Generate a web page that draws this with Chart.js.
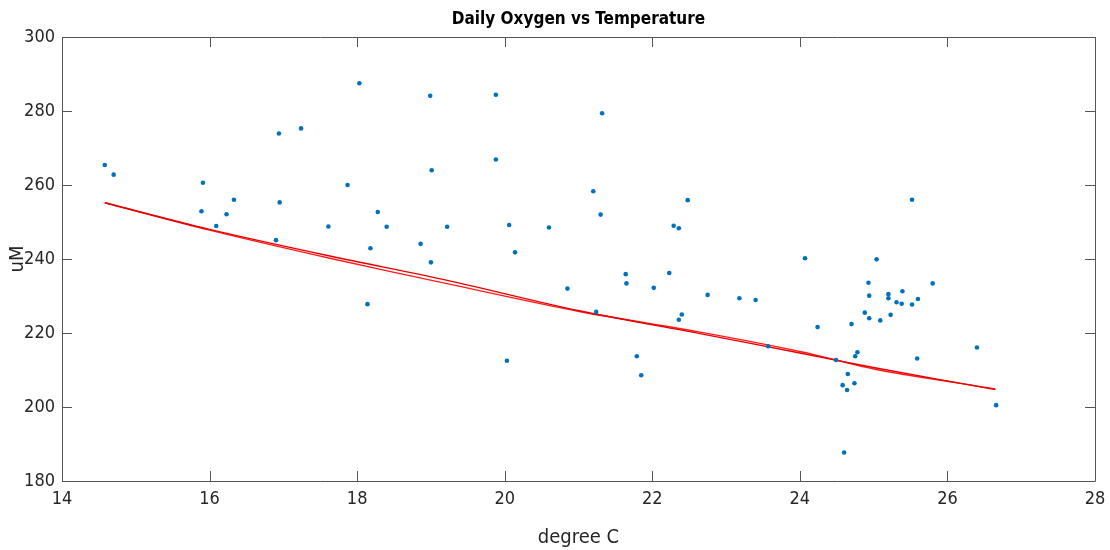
<!DOCTYPE html>
<html>
<head>
<meta charset="utf-8">
<script src="https://cdn.jsdelivr.net/npm/chart.js@4/dist/chart.umd.min.js"></script>
<style>
  html, body { margin: 0; padding: 0; background: #fff; }
  #wrap { width: 1110px; height: 550px; }
</style>
</head>
<body>
<div id="wrap"><canvas id="oxyChart"></canvas></div>
<script>
// daily means
const temps = [14.58, 14.70, 15.91, 15.89, 16.09, 16.23, 16.33, 16.94, 16.95, 17.24,
    16.90, 17.61, 17.87, 18.03, 18.99, 19.88, 21.32, 19.88, 19.01, 18.28,
    18.40, 19.22, 20.06, 20.60, 21.20, 21.30, 18.18, 18.86, 20.14, 22.48,
    22.29, 22.36, 25.52, 24.07, 25.04, 19.00, 18.14, 20.03, 20.85, 21.24,
    21.64, 21.65, 21.79, 21.85, 22.02, 22.23, 22.40, 22.36, 22.75, 23.18,
    23.40, 23.57, 24.24, 24.49, 24.60, 24.58, 24.64, 24.65, 24.74, 24.75,
    24.78, 24.70, 24.88, 24.94, 24.94, 24.93, 25.09, 25.20, 25.20, 25.23,
    25.31, 25.39, 25.38, 25.52, 25.60, 25.59, 25.80, 26.40, 26.66];
const oxygen = [265.4, 262.8, 260.6, 252.9, 248.9, 252.1, 256.0, 273.9, 255.3, 275.3,
    245.1, 248.8, 260.0, 287.5, 284.1, 284.4, 279.4, 266.9, 264.0, 252.7,
    248.7, 248.7, 249.2, 248.5, 258.3, 252.0, 242.9, 244.1, 241.8, 255.9,
    249.0, 248.3, 256.0, 240.2, 239.9, 239.1, 227.8, 212.5, 232.0, 225.7,
    235.9, 233.4, 213.7, 208.6, 232.2, 236.2, 225.0, 223.6, 230.3, 229.4,
    228.9, 216.4, 221.6, 212.7, 187.7, 205.9, 204.6, 208.9, 206.4, 213.7,
    214.8, 222.4, 225.5, 224.0, 230.1, 233.6, 223.4, 230.5, 229.4, 224.9,
    228.3, 231.3, 227.9, 227.7, 229.2, 213.1, 233.4, 216.1, 200.5];

// the two fitted curves
const fitX = [14.58, 16.0, 17.63, 19.25, 21.01, 22.63, 24.0, 25.07, 26.65];
const fitA = [255.2, 248.0, 240.8, 234.1, 226.0, 219.9, 214.6, 210.4, 204.7];
const fitB = [255.2, 247.8, 240.2, 233.2, 225.8, 220.3, 215.0, 210.0, 204.9];

const xTicks = [14, 16, 18, 20, 22, 24, 26, 28];
const yTicks = [180, 200, 220, 240, 260, 280, 300];

const FONT = "'DejaVu Sans Condensed', 'Liberation Sans Narrow', 'Liberation Sans', Arial, sans-serif";

const pts = temps.map((t, i) => ({ x: t, y: oxygen[i] }));
const lineA = fitX.map((t, i) => ({ x: t, y: fitA[i] }));
const lineB = fitX.map((t, i) => ({ x: t, y: fitB[i] }));

// box round the plot with inward ticks, matlab style
const boxPlugin = {
    id: 'box',
    afterDatasetsDraw(chart) {
        const { ctx, chartArea: a, scales } = chart;
        const len = 10;
        ctx.save();
        ctx.strokeStyle = '#555';
        ctx.lineWidth = 1;
        ctx.beginPath();
        ctx.rect(a.left + 0.5, a.top + 0.5, a.right - a.left, a.bottom - a.top);
        xTicks.forEach(v => {
            const px = Math.round(scales.x.getPixelForValue(v)) + 0.5;
            ctx.moveTo(px, a.bottom); ctx.lineTo(px, a.bottom - len);
            ctx.moveTo(px, a.top); ctx.lineTo(px, a.top + len);
        });
        yTicks.forEach(v => {
            const py = Math.round(scales.y.getPixelForValue(v)) + 0.5;
            ctx.moveTo(a.left, py); ctx.lineTo(a.left + len, py);
            ctx.moveTo(a.right, py); ctx.lineTo(a.right - len, py);
        });
        ctx.stroke();
        ctx.restore();
    }
};

new Chart(document.getElementById('oxyChart'), {
    type: 'scatter',
    data: {
        datasets: [{
            data: pts,
            backgroundColor: '#0072BD',
            borderColor: '#0072BD',
            pointRadius: 2.3,
            pointBorderWidth: 0
        }, {
            data: lineA,
            showLine: true,
            borderColor: '#e60000',
            borderWidth: 1.4,
            pointRadius: 0,
            tension: 0.3
        }, {
            data: lineB,
            showLine: true,
            borderColor: '#ff1a1a',
            borderWidth: 1.4,
            pointRadius: 0,
            tension: 0.3
        }]
    },
    options: {
        responsive: true,
        maintainAspectRatio: false,
        animation: false,
        layout: { padding: { left: 0, right: 15, top: 0, bottom: 0 } },
        plugins: {
            legend: { display: false },
            tooltip: { enabled: false },
            title: {
                display: true,
                fullSize: false,
                text: 'Daily Oxygen vs Temperature',
                color: '#000',
                font: { family: FONT, size: 17, weight: 'bold' },
                padding: { top: 9, bottom: 7.6 }
            }
        },
        scales: {
            x: {
                type: 'linear',
                min: 14, max: 28,
                afterBuildTicks: s => { s.ticks = xTicks.map(v => ({ value: v })); },
                afterFit: s => {
                    s.height = 69;
                    s.paddingLeft = 0;
                    s.paddingRight = 0;
                },
                grid: { display: false, tickLength: 0 },
                border: { display: false },
                ticks: {
                    color: '#262626',
                    font: { family: FONT, size: 18 },
                    padding: 8,
                    maxRotation: 0
                },
                title: {
                    display: true,
                    text: 'degree C',
                    color: '#262626',
                    font: { family: FONT, size: 20 },
                    padding: { top: 4, bottom: 0 }
                }
            },
            y: {
                type: 'linear',
                min: 180, max: 300,
                afterBuildTicks: s => { s.ticks = yTicks.map(v => ({ value: v })); },
                afterFit: s => { s.width = 62; },
                grid: { display: false, tickLength: 0 },
                border: { display: false },
                ticks: {
                    color: '#262626',
                    font: { family: FONT, size: 18 },
                    padding: 7
                },
                title: {
                    display: true,
                    text: 'uM',
                    color: '#262626',
                    font: { family: FONT, size: 20 },
                    padding: { top: 6, bottom: 0 }
                }
            }
        }
    },
    plugins: [boxPlugin]
});
</script>
</body>
</html>
